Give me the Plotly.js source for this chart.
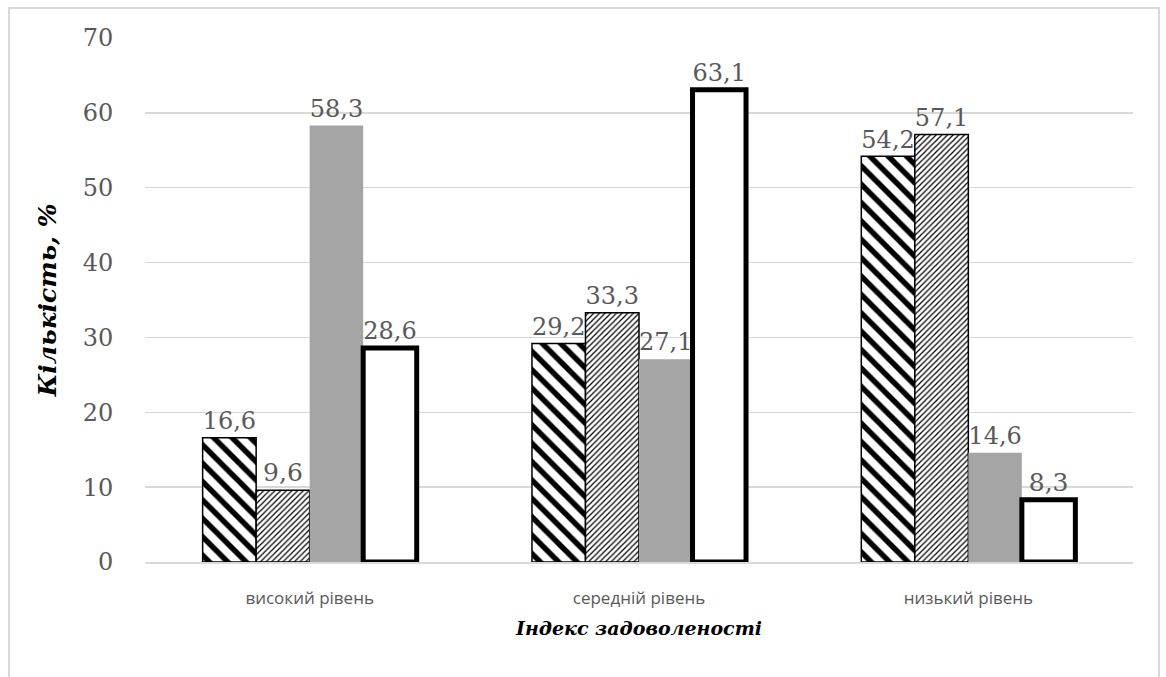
<!DOCTYPE html>
<html>
<head>
<meta charset="utf-8">
<script src="https://cdn.plot.ly/plotly-3.0.1.min.js"></script>
<style>
  html, body { margin: 0; padding: 0; background: #fff; }
  #frame { position: absolute; left: 8px; top: 7px; width: 1152px; height: 690px; border: 2px solid #d9d9d9; border-bottom: none; box-sizing: border-box; }
  #chart { position: absolute; left: 0; top: 0; width: 1166px; height: 677px; }
</style>
</head>
<body>
<div id="frame"></div>
<div id="chart"></div>
<script>
const categories = ["високий рівень", "середній рівень", "низький рівень"];
const series1 = [16.6, 29.2, 54.2];
const series2 = [9.6, 33.3, 57.1];
const series3 = [58.3, 27.1, 14.6];
const series4 = [28.6, 63.1, 8.3];
const yTicks = [0, 10, 20, 30, 40, 50, 60, 70];

const SERIF = 'DejaVu Serif';
const fmt = v => v.toFixed(1).replace('.', ',');
const labelFont = { family: SERIF, size: 25, color: "#595959" };

function bar(vals, marker) {
  return {
    type: 'bar', x: categories, y: vals,
    text: vals.map(fmt), textposition: 'outside', textfont: labelFont,
    cliponaxis: false, marker: marker, hoverinfo: 'skip'
  };
}

const traces = [
  bar(series1, { color: 'white', line: { color: 'black', width: 1.5 },
    pattern: { shape: '\\', size: 13, solidity: 0.42, fgcolor: 'black', bgcolor: 'white', fillmode: 'replace' } }),
  bar(series2, { color: 'white', line: { color: 'black', width: 1.5 },
    pattern: { shape: '/', size: 4, solidity: 0.3, fgcolor: 'black', bgcolor: 'white', fillmode: 'replace' } }),
  bar(series3, { color: '#a5a5a5', line: { width: 0 } }),
  bar(series4, { color: 'white', line: { color: 'black', width: 5 } })
];

const layout = {
  width: 1166, height: 677,
  margin: { l: 145, r: 33, t: 38, b: 115 },
  paper_bgcolor: 'rgba(0,0,0,0)', plot_bgcolor: 'rgba(0,0,0,0)',
  barmode: 'group', bargap: 0.35, bargroupgap: 0,
  showlegend: false,
  yaxis: {
    range: [0, 70], tickvals: yTicks, ticktext: yTicks.map(String),
    showgrid: true, gridcolor: '#d9d9d9', gridwidth: 1.5,
    zeroline: false, showline: false,
    ticks: 'outside', ticklen: 26, tickcolor: 'rgba(0,0,0,0)',
    tickfont: { family: SERIF, size: 24, color: '#595959' },
    title: { text: 'Кількість, %', standoff: 18,
      font: { family: SERIF, size: 25, color: 'black', weight: 'bold', style: 'italic' } }
  },
  xaxis: {
    showgrid: false, zeroline: false, showline: true, linecolor: '#d9d9d9', linewidth: 1.5,
    ticks: 'outside', ticklen: 20, tickcolor: 'rgba(0,0,0,0)',
    tickfont: { family: 'Open Sans', size: 17, color: '#595959' },
    title: { text: 'Індекс задоволеності', standoff: 14,
      font: { family: SERIF, size: 19, color: 'black', weight: 'bold', style: 'italic' } }
  }
};

Plotly.newPlot('chart', traces, layout, { displayModeBar: false, staticPlot: true });
</script>
</body>
</html>
